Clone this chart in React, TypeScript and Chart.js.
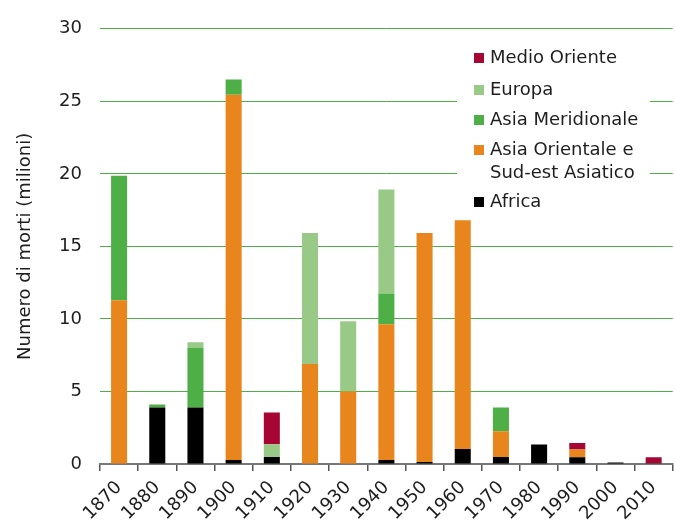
import React, { useEffect, useRef } from 'react';
import { Chart, registerables } from 'chart.js';
Chart.register(...registerables);

const years = ['1870', '1880', '1890', '1900', '1910', '1920', '1930', '1940', '1950', '1960', '1970', '1980', '1990', '2000', '2010'];
const africa = [0, 3.9, 3.9, 0.27, 0.48, 0, 0, 0.27, 0.14, 1.03, 0.48, 1.35, 0.46, 0.11, 0.05];
const asiaOrientale = [11.28, 0, 0, 25.18, 0, 6.9, 5.0, 9.37, 15.79, 15.77, 1.77, 0, 0.54, 0, 0];
const asiaMeridionale = [8.59, 0.2, 4.1, 1.05, 0, 0, 0, 2.12, 0, 0, 1.65, 0, 0, 0, 0];
const europa = [0, 0, 0.4, 0, 0.89, 9.03, 4.84, 7.17, 0, 0, 0, 0, 0, 0, 0];
const medioOriente = [0, 0, 0, 0, 2.18, 0, 0, 0, 0, 0, 0, 0, 0.44, 0, 0.41];

const seriesNames = ['Africa', 'Asia Orientale e Sud-est Asiatico', 'Asia Meridionale', 'Europa', 'Medio Oriente'];
const legendLines = [['Medio Oriente'], ['Europa'], ['Asia Meridionale'], ['Asia Orientale e', 'Sud-est Asiatico'], ['Africa']];
const colors = ['#000000', '#E8861D', '#4DAF45', '#98C987', '#A50634'];

const FONT = "'DejaVu Sans', sans-serif";
const TEXT = '#1e1e1e';

export default function App() {
  const ref = useRef<HTMLCanvasElement>(null);
  useEffect(() => {
    document.body.style.margin = '0';
    const legendPlugin = {
      id: 'boxLegend',
      afterDraw(chart: any) {
        const ctx = chart.ctx;
        ctx.save();
        ctx.fillStyle = '#ffffff';
        ctx.fillRect(457, 36, 193, 176);
        const centers = [58, 90, 120, 150, 202];
        const order = [4, 3, 2, 1, 0];
        ctx.font = `18px ${FONT}`;
        ctx.textBaseline = 'middle';
        ctx.textAlign = 'left';
        order.forEach((di, i) => {
          const y = centers[i];
          ctx.fillStyle = colors[di];
          ctx.fillRect(474, y - 5, 10, 10);
          ctx.fillStyle = TEXT;
          legendLines[i].forEach((line, li) => {
            ctx.fillText(line, 490, y + li * 23);
          });
        });
        ctx.restore();
      },
    };
    const dataSets = [africa, asiaOrientale, asiaMeridionale, europa, medioOriente];
    const chart = new Chart(ref.current as HTMLCanvasElement, {
      type: 'bar',
      data: {
        labels: years,
        datasets: dataSets.map((d, i) => ({
          label: seriesNames[i],
          data: d,
          backgroundColor: colors[i],
          borderWidth: 0,
          barPercentage: 0.42,
          categoryPercentage: 1,
        })),
      },
      options: {
        responsive: false,
        animation: false,
        devicePixelRatio: 1,
        layout: { padding: { top: 25, right: 2, left: 0, bottom: 0 } },
        plugins: { legend: { display: false }, tooltip: { enabled: false } },
        scales: {
          x: {
            stacked: true,
            offset: true,
            grid: { display: true, drawOnChartArea: false, drawTicks: true, tickLength: 7, color: '#555', lineWidth: 1.5, offset: true },
            border: { display: true, color: '#777', width: 2 },
            ticks: { minRotation: 45, maxRotation: 45, autoSkip: false, font: { family: FONT, size: 18 }, color: TEXT, padding: 6 },
            afterFit(scale: any) { scale.height = 58; },
          },
          y: {
            stacked: true,
            min: 0,
            max: 30,
            ticks: { stepSize: 5, padding: 18, font: { family: FONT, size: 18 }, color: TEXT },
            grid: { color: (c: any) => (c.tick && c.tick.value === 0 ? 'rgba(0,0,0,0)' : '#4DAF45'), drawTicks: false, lineWidth: 1 },
            border: { display: false },
            title: { display: true, text: 'Numero di morti (milioni)', font: { family: FONT, size: 18 }, color: TEXT, padding: { top: 15, bottom: 0 } },
            afterFit(scale: any) { scale.width = 100; },
          },
        },
      },
      plugins: [legendPlugin],
    });
    return () => chart.destroy();
  }, []);
  return <canvas ref={ref} width={675} height={522} style={{ display: 'block' }} />;
}
